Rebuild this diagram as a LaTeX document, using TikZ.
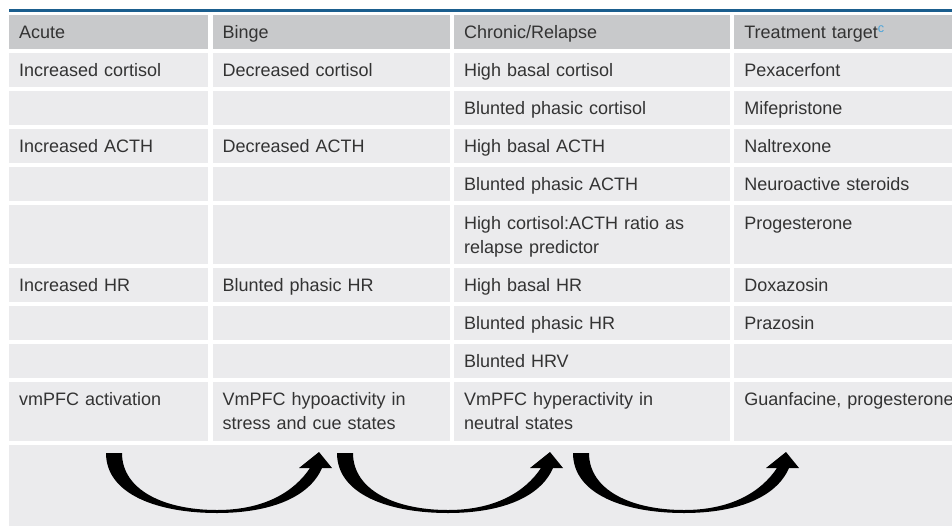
\documentclass[tikz,border=0pt]{standalone}
\usepackage{fontspec}
\setmainfont{Liberation Sans}
\usepackage{tikz}
\usetikzlibrary{positioning}
\definecolor{headgray}{HTML}{C8C9CB}
\definecolor{cellgray}{HTML}{EBEBED}
\definecolor{txtgray}{HTML}{333333}
\definecolor{rulecol}{HTML}{1B5E8E}
\definecolor{supblue}{HTML}{4BA3D9}
\newcommand{\tabfont}{\fontsize{18pt}{24pt}\selectfont}

\begin{document}
\begin{tikzpicture}[
  x=1pt, y=-1pt,
  cell/.style={fill=cellgray, text=txtgray, font=\tabfont, anchor=north west, align=left,
    inner xsep=10pt, inner ysep=0pt, text height=13pt, text depth=0pt, minimum height=33.8pt},
  head/.style={cell, fill=headgray, minimum height=34pt},
  tall/.style={minimum height=58.5pt, text depth=24pt},
  colA/.style={minimum width=199pt, text width=179pt},
  colB/.style={minimum width=237pt, text width=217pt},
  colC/.style={minimum width=276pt, text width=256pt},
  colD/.style={minimum width=230pt, text width=210pt}
]
\useasboundingbox (0,0) rectangle (952,525);
\draw[rulecol, line width=3pt] (9,10.5) -- (952,10.5);

% header
\node[head, colA] (a0) at (9,15) {Acute};
\node[head, colB, right=4pt of a0] (b0) {Binge};
\node[head, colC, right=4pt of b0] (c0) {Chronic/Relapse};
\node[head, colD, right=4pt of c0] (d0) {Treatment target\textsuperscript{\color{supblue}c}};

% cortisol
\node[cell, colA, below=3.8pt of a0] (a1) {Increased cortisol};
\node[cell, colB, right=4pt of a1] (b1) {Decreased cortisol};
\node[cell, colC, right=4pt of b1] (c1) {High basal cortisol};
\node[cell, colD, right=4pt of c1] (d1) {Pexacerfont};
\node[cell, colA, below=3.8pt of a1] (a2) {};
\node[cell, colB, right=4pt of a2] (b2) {};
\node[cell, colC, right=4pt of b2] (c2) {Blunted phasic cortisol};
\node[cell, colD, right=4pt of c2] (d2) {Mifepristone};

% ACTH
\node[cell, colA, below=3.8pt of a2] (a3) {Increased ACTH};
\node[cell, colB, right=4pt of a3] (b3) {Decreased ACTH};
\node[cell, colC, right=4pt of b3] (c3) {High basal ACTH};
\node[cell, colD, right=4pt of c3] (d3) {Naltrexone};
\node[cell, colA, below=3.8pt of a3] (a4) {};
\node[cell, colB, right=4pt of a4] (b4) {};
\node[cell, colC, right=4pt of b4] (c4) {Blunted phasic ACTH};
\node[cell, colD, right=4pt of c4] (d4) {Neuroactive steroids};
\node[cell, tall, colA, below=3.8pt of a4] (a5) {};
\node[cell, tall, colB, right=4pt of a5] (b5) {};
\node[cell, tall, colC, right=4pt of b5] (c5) {High cortisol:ACTH ratio as\\relapse predictor};
\node[cell, tall, colD, right=4pt of c5] (d5) {Progesterone};

% HR
\node[cell, colA, below=3.8pt of a5] (a6) {Increased HR};
\node[cell, colB, right=4pt of a6] (b6) {Blunted phasic HR};
\node[cell, colC, right=4pt of b6] (c6) {High basal HR};
\node[cell, colD, right=4pt of c6] (d6) {Doxazosin};
\node[cell, colA, below=3.8pt of a6] (a7) {};
\node[cell, colB, right=4pt of a7] (b7) {};
\node[cell, colC, right=4pt of b7] (c7) {Blunted phasic HR};
\node[cell, colD, right=4pt of c7] (d7) {Prazosin};
\node[cell, colA, below=3.8pt of a7] (a8) {};
\node[cell, colB, right=4pt of a8] (b8) {};
\node[cell, colC, right=4pt of b8] (c8) {Blunted HRV};
\node[cell, colD, right=4pt of c8] (d8) {};

% vmPFC
\node[cell, tall, colA, below=3.8pt of a8] (a9) {vmPFC activation};
\node[cell, tall, colB, right=4pt of a9] (b9) {VmPFC hypoactivity in\\stress and cue states};
\node[cell, tall, colC, right=4pt of b9] (c9) {VmPFC hyperactivity in\\neutral states};
\node[cell, tall, colD, right=4pt of c9] (d9) {Guanfacine, progesterone};

% bottom panel with the three curved arrows
\node[cell, minimum width=960pt, minimum height=84pt, below=3.8pt of a9.south west, anchor=north west] (panel) {};
\foreach \dx in {-231,0,236}{
  \fill[shift={(\dx,0)}] (337,453) .. controls (337,495) and (390,513) .. (448,513)
    .. controls (500,513) and (540,498) .. (553,468) -- (563,468) -- (550,452) -- (530,468) -- (541,468)
    .. controls (525,492) and (495,510) .. (448,510)
    .. controls (395,510) and (353,490) .. (353,453) -- cycle;
}
\end{tikzpicture}
\end{document}
